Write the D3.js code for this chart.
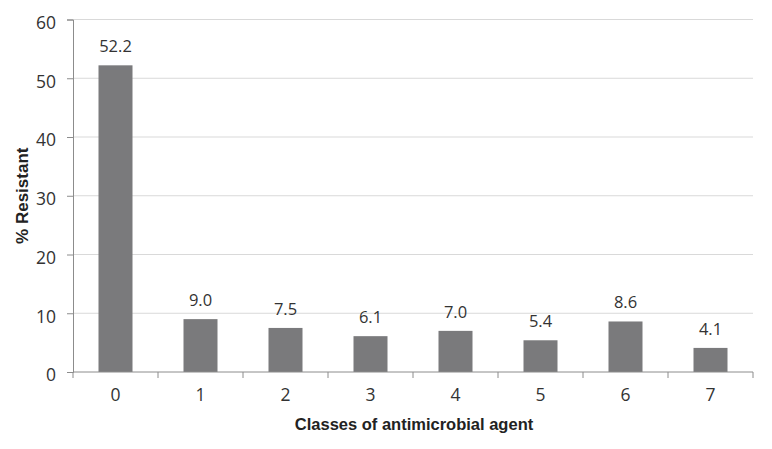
<!DOCTYPE html>
<html>
<head>
<meta charset="utf-8">
<script src="https://cdn.jsdelivr.net/npm/d3@7"></script>
<style>
  body { margin: 0; background: #fff; }
</style>
</head>
<body>
<div id="chart"></div>
<script>
var categories = ["0", "1", "2", "3", "4", "5", "6", "7"];
var resistant = [52.2, 9.0, 7.5, 6.1, 7.0, 5.4, 8.6, 4.1];
var yTicks = [0, 10, 20, 30, 40, 50, 60];

var width = 772, height = 449;
var margin = { top: 19.5, right: 19, bottom: 77, left: 73 };

var svg = d3.select("#chart").append("svg")
  .attr("width", width)
  .attr("height", height);

var x = d3.scaleBand()
  .domain(categories)
  .range([margin.left, width - margin.right])
  .paddingInner(0.6)
  .paddingOuter(0.3);

var y = d3.scaleLinear()
  .domain([0, 60])
  .range([height - margin.bottom, margin.top]);

// gridlines
svg.append("g")
  .selectAll("line")
  .data(yTicks.slice(1))
  .enter().append("line")
  .attr("x1", margin.left)
  .attr("x2", width - margin.right)
  .attr("y1", function (d) { return y(d); })
  .attr("y2", function (d) { return y(d); })
  .attr("stroke", "#d9d9d9")
  .attr("stroke-width", 1);

// bars
svg.append("g")
  .selectAll("rect")
  .data(resistant)
  .enter().append("rect")
  .attr("x", function (d, i) { return x(categories[i]); })
  .attr("y", function (d) { return y(d); })
  .attr("width", x.bandwidth())
  .attr("height", function (d) { return y(0) - y(d); })
  .attr("fill", "#7a7a7c");

// value labels
svg.append("g")
  .selectAll("text")
  .data(resistant)
  .enter().append("text")
  .attr("x", function (d, i) { return x(categories[i]) + x.bandwidth() / 2; })
  .attr("y", function (d) { return y(d) - 13; })
  .attr("text-anchor", "middle")
  .attr("font-family", "Open Sans, sans-serif")
  .attr("font-size", 16.5)
  .attr("fill", "#333")
  .text(function (d) { return d.toFixed(1); });

// y axis
var yAxis = svg.append("g")
  .attr("transform", "translate(" + margin.left + ",0)")
  .call(d3.axisLeft(y).tickValues(yTicks).tickSize(6).tickPadding(11));
yAxis.selectAll("path, line").attr("stroke", "#8c8c8c");
yAxis.selectAll("text")
  .attr("font-family", "Open Sans, sans-serif")
  .attr("font-size", 17.5)
  .attr("fill", "#333")
  .attr("dy", "0.5em");

// x axis with ticks between categories
var xAxis = svg.append("g")
  .attr("transform", "translate(0," + y(0) + ")");
xAxis.append("line")
  .attr("x1", margin.left)
  .attr("x2", width - margin.right)
  .attr("stroke", "#8c8c8c");
xAxis.selectAll("line.tick")
  .data(categories.concat(["end"]))
  .enter().append("line")
  .attr("class", "tick")
  .attr("x1", function (d, i) { return margin.left + i * x.step(); })
  .attr("x2", function (d, i) { return margin.left + i * x.step(); })
  .attr("y1", 0)
  .attr("y2", 6)
  .attr("stroke", "#8c8c8c");
xAxis.selectAll("text")
  .data(categories)
  .enter().append("text")
  .attr("x", function (d) { return x(d) + x.bandwidth() / 2; })
  .attr("y", 29)
  .attr("text-anchor", "middle")
  .attr("font-family", "Open Sans, sans-serif")
  .attr("font-size", 17.5)
  .attr("fill", "#333")
  .text(function (d) { return d; });

// axis titles
svg.append("text")
  .attr("x", 414)
  .attr("y", 430)
  .attr("text-anchor", "middle")
  .attr("font-family", "Liberation Sans, Arial, sans-serif")
  .attr("font-weight", "bold")
  .attr("font-size", 16.5)
  .attr("fill", "#222")
  .text("Classes of antimicrobial agent");

svg.append("text")
  .attr("transform", "translate(28," + y(30) + ") rotate(-90)")
  .attr("text-anchor", "middle")
  .attr("font-family", "Liberation Sans, Arial, sans-serif")
  .attr("font-weight", "bold")
  .attr("font-size", 17)
  .attr("fill", "#222")
  .text("% Resistant");
</script>
</body>
</html>
